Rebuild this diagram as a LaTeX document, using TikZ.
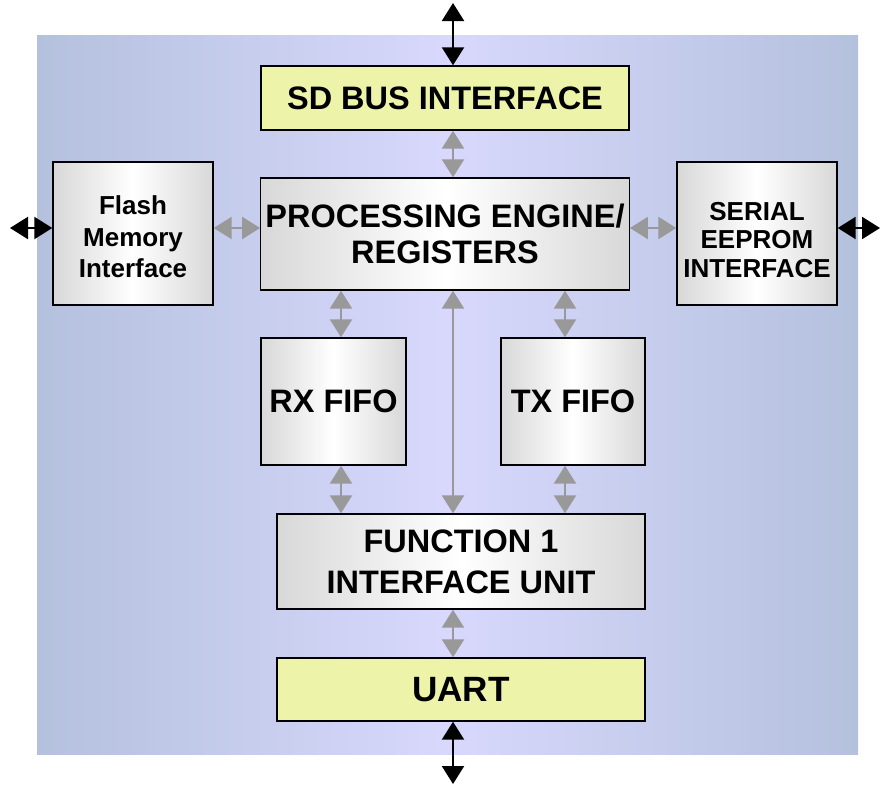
\documentclass[tikz,border=0pt]{standalone}
\usepackage{fontspec}
\setmainfont{Liberation Sans}
\usetikzlibrary{arrows.meta}

\definecolor{bgedge}{RGB}{180,193,221}
\definecolor{bgmid}{RGB}{216,216,252}
\definecolor{boxgray}{RGB}{216,216,216}
\definecolor{busyellow}{RGB}{237,244,170}
\definecolor{linkgray}{RGB}{153,153,153}

\begin{document}
\begin{tikzpicture}[
  >={Triangle[width=0.55cm,length=0.45cm]},
  blockfont/.style={font=\bfseries\fontsize{23.1}{25.6}\selectfont, align=center},
  smallfont/.style={font=\bfseries\fontsize{18.5}{22.7}\selectfont, align=center},
  greybox/.style={draw=black, line width=1pt, left color=boxgray, right color=boxgray, middle color=white},
  yellowbox/.style={draw=black, line width=1pt, fill=busyellow},
  extlink/.style={<->, black, line width=1.6pt},
  intlink/.style={<->, linkgray, line width=1.6pt}
]

\useasboundingbox (0,0) rectangle (22.025,-19.65);

% background panel
\shade[left color=bgedge, right color=bgedge, middle color=bgmid] (0.925,-0.875) rectangle (21.45,-18.85);

% blocks
\node[yellowbox, blockfont, minimum width=9.2cm, minimum height=1.6cm] (sdbus) at (11.125,-2.45) {SD BUS INTERFACE};
\node[greybox, blockfont, minimum width=9.2cm, minimum height=2.8cm] (engine) at (11.125,-5.85) {PROCESSING ENGINE/\\REGISTERS};
\node[greybox, minimum width=4cm, minimum height=3.575cm] (flash) at (3.325,-5.8375) {};
\node[smallfont] (flashtext) at ([yshift=-0.08cm]flash.center) {Flash\\Memory\\Interface};
\node[greybox, minimum width=4cm, minimum height=3.575cm] (eeprom) at (18.925,-5.8375) {};
\node[smallfont, font=\bfseries\fontsize{18.5}{20.3}\selectfont] (eepromtext) at ([yshift=-0.16cm]eeprom.center) {SERIAL\\EEPROM\\INTERFACE};
\node[greybox, blockfont, minimum width=3.625cm, minimum height=3.175cm] (rxfifo) at (8.3375,-10.0375) {RX FIFO};
\node[greybox, blockfont, minimum width=3.6cm, minimum height=3.175cm] (txfifo) at (14.325,-10.0375) {TX FIFO};
\node[greybox, blockfont, font=\bfseries\fontsize{23.1}{29}\selectfont, minimum width=9.2cm, minimum height=2.375cm] (func) at (11.525,-14.0375) {FUNCTION 1\\INTERFACE UNIT};
\node[yellowbox, blockfont, font=\bfseries\fontsize{25}{28}\selectfont, minimum width=9.2cm, minimum height=1.575cm] (uart) at (11.525,-17.2375) {UART};

% link positions and free ends
\coordinate (midx) at (11.325,0);
\coordinate (rxx) at (8.525,0);
\coordinate (txx) at (14.125,0);
\coordinate (busy) at (0,-5.7);
\coordinate (topend) at (11.325,-0.075);
\coordinate (botend) at (11.325,-19.6);
\coordinate (leftend) at (0.25,-5.7);
\coordinate (rightend) at (22.0,-5.7);

% outside links
\draw[extlink] (topend) -- (sdbus.north -| midx);
\draw[extlink] (uart.south -| midx) -- (botend);
\draw[extlink] (leftend) -- (flash.west |- busy);
\draw[extlink] (eeprom.east |- busy) -- (rightend);

% inside links
\draw[intlink] (sdbus.south -| midx) -- (engine.north -| midx);
\draw[intlink] (flash.east |- busy) -- (engine.west |- busy);
\draw[intlink] (engine.east |- busy) -- (eeprom.west |- busy);
\draw[intlink] (engine.south -| rxx) -- (rxfifo.north -| rxx);
\draw[intlink] (engine.south -| txx) -- (txfifo.north -| txx);
\draw[intlink] (engine.south -| midx) -- (func.north -| midx);
\draw[intlink] (rxfifo.south -| rxx) -- (func.north -| rxx);
\draw[intlink] (txfifo.south -| txx) -- (func.north -| txx);
\draw[intlink] (func.south -| midx) -- (uart.north -| midx);

\end{tikzpicture}
\end{document}
